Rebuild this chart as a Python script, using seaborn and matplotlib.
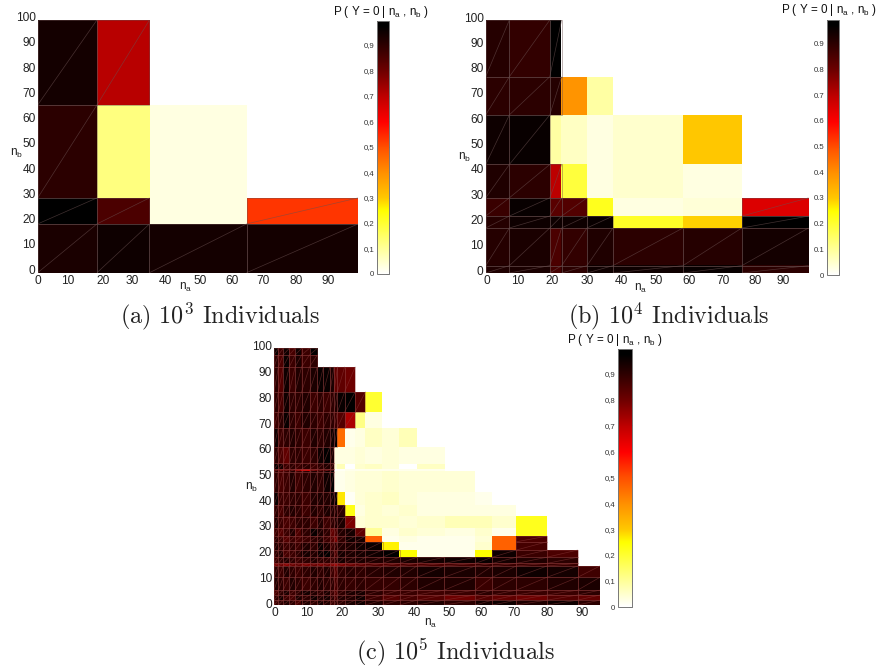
import numpy as np
import pandas as pd
import matplotlib
matplotlib.use("Agg")
import matplotlib.pyplot as plt
from matplotlib.colors import LinearSegmentedColormap
from matplotlib.collections import LineCollection
from matplotlib.transforms import ScaledTranslation
import seaborn as sns

nan = np.nan

# ---------- data ----------
a_xe = [0, 18.5, 34.9, 65.2, 100]
a_ye = [0, 19.3, 29.6, 66.4, 100]
a_vals = [
    [.93, .95, .94, .94],
    [.99, .85, .03, .53],
    [.90, .125, .03, nan],
    [.94, .705, nan, nan],
]

b_xe = [0, 7.2, 19.5, 23.1, 30.8, 38.7, 60, 77.9, 98.2]
b_ye = [0, 2.9, 17.8, 22.5, 29.7, 42.9, 62.5, 77.6, 100]
b_vals = [
    [.92, .93, .86, .90, .95, .95, .96, .90],
    [.91, .93, .85, .89, .92, .90, .91, .94],
    [.91, .95, .95, .95, .96, .21, .29, .98],
    [.88, .96, .83, .84, .22, .03, .04, .65],
    [.92, .90, .70, .19, .03, .05, .03, nan],
    [.95, .96, .09, .06, .03, .05, .30, nan],
    [.90, .90, .91, .39, .09, nan, nan, nan],
    [.91, .89, .99, nan, nan, nan, nan, nan],
]

c_xe = [0, 1.3, 2.7, 4.5, 6.2, 8.1, 10.4, 12.7, 14.5, 16.4, 17.6, 18.6, 20.7,
        23.8, 26.8, 31.8, 36.8, 41.9, 49.9, 59, 64, 71, 80, 89, 95.5]
# row edges listed from the top down
c_ye = [99.9, 97.3, 92.7, 83, 75.2, 69, 61.6, 55.1, 52.8, 51.9, 43.9, 38.9, 34.4,
        30.1, 26.8, 24.6, 21.4, 18.6, 16.2, 15.2, 10.8, 5.8, 3.9, 1.9, 0]
c_rows = [
    [.96, .88, .95, .86, .95, .88, .97],
    [.90, .85, .96, .88, .93, .88, .90],
    [.90, .84, .95, .88, .92, .90, .93, .96, .96, .93, .82, .82, .80],
    [.90, .86, .95, .90, .90, .92, .88, .90, .88, .90, .92, .96, .97, .84, .20],
    [.88, .90, .96, .90, .88, .92, .90, .88, .90, .90, .88, .84, .72, .12, .03],
    [.95, .88, .90, .92, .90, .88, .92, .90, .92, .95, .98, .45, .02, .03, .06, .04, .07],
    [.90, .85, .82, .90, .90, .88, .90, .95, .97, .93, .03, .03, .03, .04, .03, .04, .03, .03],
    [.96, .94, .88, .90, .88, .90, .88, .90, .92, .90, .04, .07, 0, .05, .06, .04, 0, .06],
    [.85, .80, .82, .85, .75, .65, .80, .85, .85, .90, 0, .01, .02, .02, .02, .02, .02, .02],
    [.90, .86, .88, .92, .88, .90, .92, .90, .95, .97, .02, .02, .03, .04, .04, .05, .04, .04, .04],
    [.96, .88, .88, .90, .90, .88, .92, .93, .92, .95, .98, .27, .01, .04, .05, .06, .04, .03, .03, .02],
    [.90, .86, .90, .92, .90, .88, .92, .90, .93, .92, .92, .90, .23, .03, .05, .04, .05, .03, .03, .03, .03],
    [.92, .88, .86, .88, .90, .90, .88, .92, .88, .90, .92, .93, .78, .04, .05, .05, .04, .05, .07, .07, .05, .22],
    [.88, .84, .88, .92, .85, .90, .96, .93, .90, .82, .85, .92, .94, .82, .10, .03, .05, .04, .03, .05, .02, .22],
    [.90, .88, .84, .88, .86, .88, .90, .92, .88, .84, .78, .90, .95, .94, .47, .02, .03, .02, .02, .04, .47, .85],
    [.92, .90, .88, .90, .88, .92, .90, .96, .93, .88, .90, .92, .93, .95, .96, .26, .02, .02, .02, .05, .47, .86],
    [.90, .92, .86, .88, .90, .94, .92, .96, .97, .90, .85, .94, .93, .94, .95, .97, .25, .02, .02, .25, .95, .88, .85],
    [.88, .90, .92, .90, .88, .90, .92, .90, .90, .88, .90, .94, .92, .93, .92, .92, .93, .94, .95, .96, .94, .92, .90],
    [.78, .80, .76, .80, .82, .78, .80, .78, .80, .76, .72, .78, .80, .82, .84, .84, .85, .85, .86, .88, .88, .88, .88],
    [.90, .88, .92, .90, .88, .90, .92, .90, .92, .88, .84, .90, .91, .90, .91, .92, .92, .94, .93, .92, .93, .95, .94, .87],
    [.92, .90, .88, .92, .90, .88, .90, .92, .90, .90, .86, .90, .89, .90, .89, .89, .90, .92, .92, .88, .90, .90, .92, .93],
    [.86, .90, .93, .88, .90, .94, .92, .90, .93, .88, .84, .90, .93, .94, .90, .88, .88, .87, .88, .90, .89, .88, .88, .90],
    [.90, .94, .88, .86, .93, .90, .95, .92, .94, .90, .86, .92, .92, .95, .88, .84, .86, .84, .80, .84, .82, .80, .84, .82],
    [.88, .90, .92, .90, .86, .92, .90, .94, .92, .88, .90, .90, .93, .95, .92, .90, .90, .92, .90, .94, .95, .92, .95, .90],
]

x_ticks = [0, 10, 20, 30, 40, 50, 60, 70, 80, 90]
y_ticks = [0, 10, 20, 30, 40, 50, 60, 70, 80, 90, 100]
cbar_ticks = [0, .1, .2, .3, .4, .5, .6, .7, .8, .9]
titles = ["(a) $10^3$ Individuals", "(b) $10^4$ Individuals", "(c) $10^5$ Individuals"]
cbar_title = r"P ( Y = 0 | $\mathregular{n_a}$ , $\mathregular{n_b}$ )"

stops = [0, .25, .30, .40, .50, .60, .70, .80, .90, .98, 1]
stop_colors = ["#ffffff", "#ffff00", "#ffc800", "#ff9000", "#ff5000", "#ff0000",
               "#c00000", "#700000", "#300000", "#000000", "#000000"]

# ---------- style ----------
sns.set_theme(style="white")
plt.rcParams["font.family"] = ["Liberation Sans", "DejaVu Sans"]
W, H = 878, 669
RES = 4  # fine-grid cells per data unit
cmap = LinearSegmentedColormap.from_list("p_y0", list(zip(stops, stop_colors)), N=512)
fig = plt.figure(figsize=(W / 100, H / 100), dpi=100, facecolor="white")


def px_axes(x0, y0, x1, y1):
    return fig.add_axes([x0 / W, 1 - y1 / H, (x1 - x0) / W, (y1 - y0) / H])


def panel(box, cbox, xe, ye, vals, xmax, tick_px, tick_off, comma, edge_color, edge_alpha,
          lab_x, lab_y, cap, ttl):
    xe, ye, vals = np.asarray(xe, float), np.asarray(ye, float), np.asarray(vals, float)
    ax, cax = px_axes(*box), px_axes(*cbox)
    nx, ny = int(round(xmax * RES)), 100 * RES
    ic = np.clip(np.searchsorted(xe, (np.arange(nx) + .5) / RES) - 1, 0, len(xe) - 2)
    jc = np.searchsorted(ye, (np.arange(ny) + .5) / RES) - 1
    grid = np.full((ny, nx), nan)
    ok = (jc >= 0) & (jc < len(ye) - 1)
    grid[ok] = vals[jc[ok]][:, ic]
    sns.heatmap(pd.DataFrame(grid), ax=ax, cbar_ax=cax, cmap=cmap, vmin=0, vmax=.993,
                xticklabels=False, yticklabels=False)
    ax.set_xlim(0, nx)
    ax.set_ylim(0, ny)

    # triangulated mesh of the dark cells
    segs = []
    for j in range(vals.shape[0]):
        for i in range(vals.shape[1]):
            if np.isnan(vals[j, i]) or vals[j, i] < .5:
                continue
            x0, x1, y0, y1 = xe[i] * RES, xe[i + 1] * RES, ye[j] * RES, ye[j + 1] * RES
            segs += [[(x0, y0), (x1, y0)], [(x1, y0), (x1, y1)], [(x1, y1), (x0, y1)],
                     [(x0, y1), (x0, y0)], [(x0, y0), (x1, y1)]]
    ax.add_collection(LineCollection(segs, colors=edge_color, linewidths=.5, alpha=edge_alpha))

    # the reference's tick labels sit slightly off a regular spacing
    xpos = (np.array(tick_px) - box[0]) / (box[2] - box[0]) * nx
    ax.set_xticks(xpos, [str(t) for t in x_ticks], rotation=0)
    ax.set_yticks(np.array(y_ticks) * RES, [str(t) for t in y_ticks], rotation=0)
    ax.tick_params(left=False, bottom=False, length=0, labelsize=8.6, pad=1.5, colors="#222222")
    off = ScaledTranslation(0, tick_off / 100, fig.dpi_scale_trans)
    for lab in ax.get_yticklabels():
        lab.set_transform(lab.get_transform() + off)
    for s in ax.spines.values():
        s.set_visible(False)

    cb = ax.collections[0].colorbar
    labs = [("%.1f" % t) for t in cbar_ticks]
    labs[0] = "0"
    if comma:
        labs = [l.replace(".", ",") for l in labs]
    cb.set_ticks(cbar_ticks, labels=labs)
    cb.minorticks_off()
    cb.ax.tick_params(left=False, right=True, labelleft=True, labelright=False,
                      direction="in", length=2.5, width=.5, color="#333333",
                      labelsize=5.6, labelcolor="#333333", pad=2)
    cb.outline.set_visible(True)
    cb.outline.set_edgecolor("#777777")
    cb.outline.set_linewidth(.7)

    fig.text(lab_x[0] / W, 1 - lab_x[1] / H, r"$\mathregular{n_a}$", ha="center", va="center",
             fontsize=8.6, color="#222222")
    fig.text(lab_y[0] / W, 1 - lab_y[1] / H, r"$\mathregular{n_b}$", ha="center", va="center",
             fontsize=8.6, color="#222222")
    fig.text(ttl[0] / W, 1 - ttl[1] / H, cbar_title, ha="center", va="center",
             fontsize=8.4, color="#111111")
    fig.text(cap[1] / W, 1 - cap[2] / H, cap[0], ha="center", va="center", fontsize=17.4,
             family="cmr10", math_fontfamily="cm", color="#222222")


panel((37.7, 20, 358, 272.7), (377, 21, 389, 274), a_xe, a_ye, a_vals, 100,
      [38, 68, 103, 132, 165, 200, 232, 263, 296, 328], 3.5, True,
      "#6a5050", .6, (186, 287), (17, 153), (titles[0], 220, 316), (381, 12))
panel((485.7, 20, 808.7, 273), (827, 20, 839, 275), b_xe, b_ye, b_vals, 98.2,
      [487, 518, 552, 587, 621, 656, 689, 723, 755, 783], 3, False,
      "#6a5050", .6, (641, 288), (465, 157), (titles[1], 669, 316), (829, 10))
c_ye_up = c_ye[::-1]
c_vals = pd.DataFrame(c_rows).to_numpy(float)[::-1]
panel((274, 348, 600, 605), (618, 349, 632, 607), c_xe, c_ye_up, c_vals, 95.6,
      [275, 307, 342, 378, 414, 449, 481, 514, 547, 582], 2, True,
      "#8a3a3a", .55, (431, 623), (252, 487), (titles[2], 455, 652), (615, 340))

fig.savefig("out.png", dpi=100, facecolor="white")
